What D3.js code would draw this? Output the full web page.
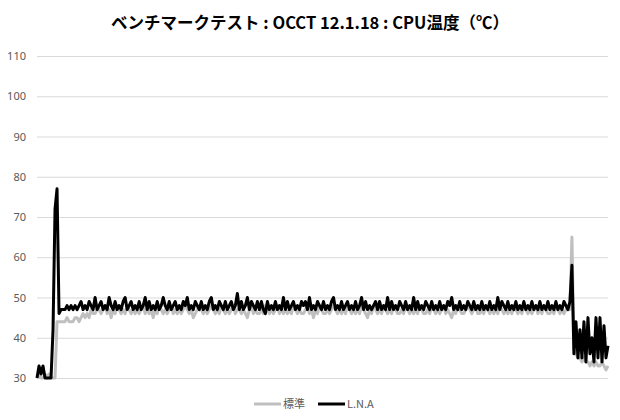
<!DOCTYPE html>
<html>
<head>
<meta charset="utf-8">
<script src="https://cdn.jsdelivr.net/npm/d3@7"></script>
<style>
  body { margin: 0; background: #fff; }
  svg { font-family: "Noto Sans CJK JP", "Noto Sans", sans-serif; }
</style>
</head>
<body>
<svg id="chart" width="620" height="420"></svg>
<script>
const title = "ベンチマークテスト : OCCT 12.1.18 : CPU温度（℃）";
const seriesNames = ["標準", "L.N.A"];
const yTicks = [30, 40, 50, 60, 70, 80, 90, 100, 110];

// L.N.A (black)
const lnaStart = [30,33,31,33,30,30,30,30,42,72,77];
const lnaLoad = [
  46,47,47,47,48,47,48,47,48,47,48,49,47,48,47,49,48,47,50,47,
  48,49,47,48,47,50,48,47,49,47,48,47,49,50,47,48,49,47,48,47,
  49,47,48,50,47,49,47,48,47,49,47,48,50,48,47,49,47,48,49,47,
  48,47,49,48,50,47,48,47,49,48,47,49,47,48,47,49,50,47,48,47,
  49,48,47,49,47,48,49,47,48,51,47,49,47,48,50,47,49,48,47,49,
  47,49,47,46,49,47,48,47,49,47,48,47,50,47,49,47,48,49,47,48,
  47,49,48,49,47,50,47,48,47,49,48,47,49,47,48,47,49,50,47,48,
  47,49,47,48,49,47,48,47,49,47,48,50,47,49,47,48,47,48,49,47,
  49,47,48,47,50,47,49,47,48,47,49,48,47,49,47,48,47,50,47,49,
  47,48,47,49,48,47,49,47,48,47,49,47,48,47,49,48,50,47,48,47,
  49,47,48,47,49,48,47,49,47,48,47,49,47,48,47,49,47,48,47,50,
  47,49,48,47,49,47,48,47,49,47,48,47,49,47,48,47,49,47,48,47,
  49,47,48,47,49,47,48,47,49,47,48,47,49,48,47,49
];
const lnaEnd = [58,36,44,35,42,35,44,34,45,36,40,34,45,35,45,34,43,35,38];

// 標準 (gray)
const stdStart = [30,31,30,30,31,30,31,30,30,30,44];
const stdLoad = [
  44,44,44,44,45,44,44,44,45,45,44,45,46,45,46,45,47,46,46,47,
  47,46,47,48,46,47,45,47,46,48,47,46,47,46,48,47,46,47,46,47,
  46,47,48,46,47,46,47,45,47,46,48,47,46,47,46,47,48,46,47,46,
  47,46,47,48,47,46,47,45,46,47,48,47,46,47,46,47,48,47,46,47,
  46,48,47,46,47,46,47,48,46,47,47,46,47,46,45,47,48,46,47,46,
  46,47,46,48,47,46,47,46,47,48,46,47,46,47,46,47,46,48,47,46,
  47,46,46,47,48,46,47,45,47,46,48,47,46,46,47,46,47,48,47,46,
  47,46,47,46,48,47,46,47,46,47,46,48,47,46,45,47,46,48,47,46,
  47,46,48,47,46,47,46,48,47,46,46,47,46,48,47,46,47,46,47,46,
  48,47,46,46,47,46,48,47,46,47,46,47,48,46,47,46,45,47,46,48,
  47,46,46,47,48,47,46,47,48,46,46,47,46,48,47,46,47,46,47,46,
  48,47,46,47,46,47,46,48,47,46,47,46,48,47,46,47,46,47,48,46,
  47,46,48,47,46,46,47,46,48,47,46,47,46,47,48,47
];
const stdEnd = [65,37,36,35,35,34,35,34,34,33,34,33,34,33,33,34,33,32,33];

const lna = lnaStart.concat(lnaLoad, lnaEnd);
const std = stdStart.concat(stdLoad, stdEnd);

const svg = d3.select("#chart");
const plot = {left: 37, right: 608, top: 56, bottom: 378};

const x = d3.scaleLinear().domain([0, Math.max(lna.length, std.length) - 1]).range([plot.left, plot.right]);
const y = d3.scaleLinear().domain([30, 110]).range([plot.bottom, plot.top]);

svg.append("text")
  .attr("x", 310).attr("y", 29)
  .attr("text-anchor", "middle")
  .attr("font-size", 16.5).attr("font-weight", "bold")
  .attr("fill", "#000")
  .text(title);

// gridlines + labels
const yAxis = d3.axisLeft(y).tickValues(yTicks)
  .tickSize(-(plot.right - plot.left)).tickPadding(11);
const gy = svg.append("g").attr("transform", `translate(${plot.left},0)`).call(yAxis);
gy.select(".domain").remove();
gy.selectAll(".tick line").attr("stroke", "#d9d9d9").attr("stroke-width", 1);
gy.selectAll(".tick text").attr("fill", "#595959").attr("font-size", 11)
  .attr("font-family", "\"Noto Sans\", sans-serif");

const line = d3.line().x((d, i) => x(i)).y(d => y(d));

svg.append("path").datum(std)
  .attr("fill", "none").attr("stroke", "#bfbfbf")
  .attr("stroke-width", 3).attr("stroke-linejoin", "round")
  .attr("d", line);
svg.append("path").datum(lna)
  .attr("fill", "none").attr("stroke", "#000")
  .attr("stroke-width", 3).attr("stroke-linejoin", "round")
  .attr("d", line);

// legend
const legend = svg.append("g").attr("transform", "translate(0,404)");
const legendItems = [
  {name: seriesNames[0], color: "#bfbfbf", x0: 254},
  {name: seriesNames[1], color: "#000", x0: 318}
];
legendItems.forEach(it => {
  legend.append("line")
    .attr("x1", it.x0).attr("x2", it.x0 + 27)
    .attr("y1", 0).attr("y2", 0)
    .attr("stroke", it.color).attr("stroke-width", 3);
  legend.append("text")
    .attr("x", it.x0 + 29).attr("y", 4)
    .attr("font-size", 11).attr("fill", "#595959")
    .text(it.name);
});
</script>
</body>
</html>
